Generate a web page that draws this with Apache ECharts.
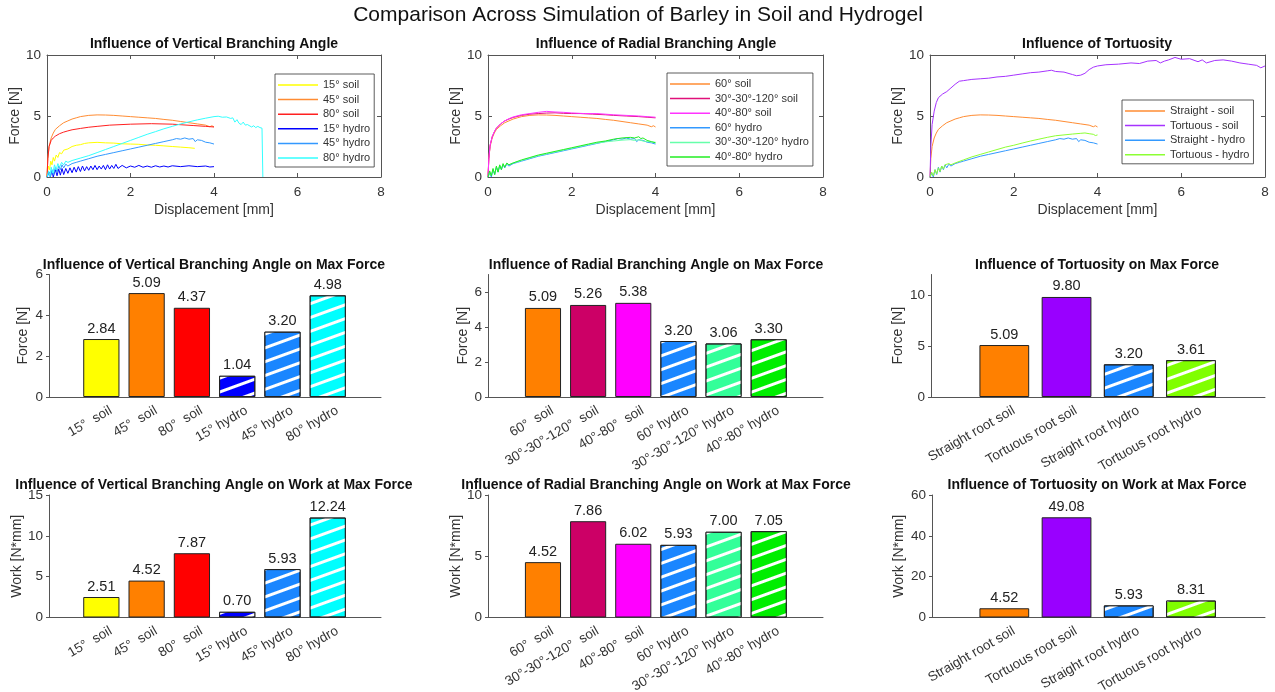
<!DOCTYPE html>
<html>
<head>
<meta charset="utf-8">
<title>Comparison Across Simulation of Barley in Soil and Hydrogel</title>
<script src="https://cdn.jsdelivr.net/npm/echarts@6/dist/echarts.min.js"></script>
<style>
  html, body { margin: 0; padding: 0; background: #fff; }
  #chart { width: 1275px; height: 692px; }
</style>
</head>
<body>
<div id="chart"></div>
<script>
// ---------- force–displacement curves: [displacement mm, force N] ----------
const curve15Soil = [[0,0],[0.03,0.9],[0.06,0.6],[0.09,1.3],[0.12,1.0],[0.15,1.6],[0.18,1.3],[0.22,1.8],[0.26,1.6],[0.3,2.0],[0.35,1.9],[0.4,2.2],[0.5,2.3],[0.6,2.5],[0.7,2.6],[0.8,2.65],[0.9,2.75],[1.0,2.8],[1.2,2.84],[1.4,2.8],[1.6,2.78],[1.8,2.72],[2.0,2.7],[2.2,2.68],[2.4,2.62],[2.6,2.6],[2.8,2.55],[3.0,2.5],[3.2,2.45],[3.4,2.4],[3.54,2.35]];
const curve45Soil = [[0,0],[0.02,1.5],[0.05,2.5],[0.1,3.2],[0.15,3.6],[0.2,3.9],[0.3,4.2],[0.4,4.45],[0.5,4.6],[0.6,4.75],[0.7,4.85],[0.8,4.95],[1.0,5.05],[1.2,5.09],[1.4,5.08],[1.6,5.05],[1.8,5.0],[2.0,4.95],[2.2,4.9],[2.4,4.85],[2.6,4.8],[2.8,4.72],[3.0,4.65],[3.2,4.55],[3.4,4.45],[3.6,4.35],[3.8,4.25],[3.9,4.12],[3.95,4.2],[4.0,4.1]];
const curve80Soil = [[0,0],[0.02,1.5],[0.05,2.5],[0.1,3.0],[0.15,3.2],[0.2,3.35],[0.3,3.55],[0.4,3.68],[0.5,3.78],[0.6,3.87],[0.8,3.98],[1.0,4.08],[1.2,4.15],[1.5,4.25],[2.0,4.33],[2.5,4.37],[3.0,4.33],[3.5,4.22],[3.8,4.15],[4.0,4.1]];
const curve15Hydro = [[0,0],[0.05,0.4],[0.08,0.05],[0.12,0.5],[0.15,0.0],[0.2,0.6],[0.24,0.1],[0.28,0.65],[0.32,0.15],[0.36,0.7],[0.4,0.2],[0.45,0.7],[0.5,0.3],[0.55,0.75],[0.6,0.35],[0.65,0.8],[0.7,0.4],[0.75,0.85],[0.8,0.45],[0.85,0.9],[0.9,0.5],[0.95,0.85],[1.0,0.55],[1.05,0.9],[1.1,0.6],[1.15,0.95],[1.2,0.6],[1.25,0.9],[1.3,0.65],[1.35,0.95],[1.4,0.6],[1.45,1.0],[1.5,0.65],[1.55,0.95],[1.6,0.7],[1.65,1.04],[1.7,0.7],[1.8,0.95],[1.9,0.75],[2.0,0.9],[2.1,0.8],[2.2,0.95],[2.3,0.8],[2.4,0.9],[2.5,0.8],[2.6,0.92],[2.7,0.82],[2.8,0.9],[2.9,0.82],[3.0,0.92],[3.2,0.85],[3.4,0.92],[3.6,0.85],[3.8,0.9],[3.9,0.82],[4.0,0.85]];
const curve45Hydro = [[0,0],[0.04,0.3],[0.08,0.0],[0.12,0.6],[0.16,0.2],[0.2,0.8],[0.24,0.4],[0.28,0.9],[0.32,0.6],[0.36,1.0],[0.4,0.75],[0.45,1.05],[0.5,0.9],[0.6,1.1],[0.7,1.2],[0.8,1.3],[1.0,1.5],[1.2,1.7],[1.4,1.85],[1.6,2.0],[1.8,2.15],[2.0,2.3],[2.2,2.45],[2.4,2.6],[2.6,2.75],[2.8,2.9],[3.0,3.05],[3.1,3.15],[3.2,3.1],[3.3,3.2],[3.4,3.1],[3.5,3.15],[3.55,2.9],[3.6,3.05],[3.7,3.0],[3.8,2.85],[3.9,2.8],[4.0,2.7]];
const curve80Hydro = [[0,0],[0.04,0.5],[0.07,0.1],[0.1,0.8],[0.14,0.3],[0.18,1.0],[0.22,0.6],[0.26,1.1],[0.3,0.8],[0.35,1.2],[0.4,1.0],[0.45,1.3],[0.5,1.2],[0.6,1.35],[0.8,1.55],[1.0,1.75],[1.2,2.0],[1.4,2.25],[1.6,2.5],[1.8,2.75],[2.0,3.0],[2.2,3.25],[2.4,3.5],[2.6,3.72],[2.8,3.95],[3.0,4.15],[3.2,4.35],[3.4,4.52],[3.6,4.68],[3.8,4.82],[4.0,4.95],[4.1,4.98],[4.2,4.9],[4.3,4.92],[4.4,4.8],[4.45,4.85],[4.5,4.5],[4.55,4.7],[4.6,4.4],[4.65,4.3],[4.7,4.5],[4.75,4.25],[4.8,4.3],[4.9,4.1],[4.95,4.2],[5.0,4.05],[5.05,4.15],[5.1,4.05],[5.15,4.0],[5.17,0]];
const curve303030Soil = [[0,0],[0.02,1.5],[0.05,2.6],[0.1,3.3],[0.15,3.7],[0.2,4.0],[0.3,4.35],[0.4,4.6],[0.5,4.75],[0.6,4.88],[0.8,5.05],[1.0,5.15],[1.2,5.2],[1.4,5.24],[1.6,5.26],[1.8,5.22],[2.0,5.2],[2.2,5.2],[2.5,5.15],[2.8,5.1],[3.0,5.05],[3.3,5.0],[3.6,4.95],[3.8,4.9],[4.0,4.85]];
const curve4080Soil = [[0,0],[0.02,1.5],[0.05,2.6],[0.1,3.3],[0.15,3.7],[0.2,4.0],[0.3,4.35],[0.4,4.6],[0.5,4.78],[0.6,4.92],[0.8,5.1],[1.0,5.2],[1.2,5.3],[1.4,5.38],[1.6,5.33],[1.8,5.3],[2.0,5.25],[2.3,5.2],[2.6,5.2],[3.0,5.1],[3.3,5.05],[3.6,5.0],[3.8,4.95],[4.0,4.9]];
const curve303030Hydro = [[0,0],[0.04,0.4],[0.08,0.1],[0.12,0.6],[0.16,0.3],[0.2,0.8],[0.24,0.5],[0.28,0.95],[0.32,0.7],[0.36,1.05],[0.4,0.85],[0.45,1.1],[0.5,1.0],[0.6,1.15],[0.8,1.35],[1.0,1.55],[1.2,1.75],[1.4,1.9],[1.6,2.05],[1.8,2.2],[2.0,2.35],[2.2,2.5],[2.4,2.65],[2.6,2.78],[2.8,2.88],[3.0,2.95],[3.2,3.02],[3.4,3.06],[3.5,3.0],[3.6,3.05],[3.7,2.95],[3.8,2.9],[4.0,2.85]];
const curve4080Hydro = [[0,0],[0.04,0.5],[0.08,0.1],[0.12,0.7],[0.16,0.2],[0.2,0.9],[0.24,0.4],[0.28,1.0],[0.32,0.6],[0.36,1.1],[0.4,0.8],[0.45,1.15],[0.5,1.0],[0.6,1.15],[0.8,1.4],[1.0,1.6],[1.2,1.8],[1.4,1.95],[1.6,2.1],[1.8,2.25],[2.0,2.4],[2.2,2.55],[2.4,2.7],[2.6,2.85],[2.8,2.95],[3.0,3.1],[3.2,3.2],[3.4,3.25],[3.5,3.2],[3.6,3.3],[3.65,3.15],[3.7,3.2],[3.8,3.0],[3.9,2.9],[4.0,2.8]];
const curveTortSoil = [[0,0],[0.02,2.5],[0.05,4.3],[0.1,5.4],[0.15,6.1],[0.2,6.5],[0.3,6.8],[0.4,7.0],[0.5,7.3],[0.6,7.6],[0.7,7.85],[0.8,7.9],[0.9,7.95],[1.0,8.0],[1.2,8.05],[1.4,8.1],[1.6,8.2],[1.8,8.25],[2.0,8.35],[2.2,8.45],[2.4,8.55],[2.6,8.6],[2.8,8.7],[2.9,8.75],[3.0,8.65],[3.2,8.6],[3.4,8.4],[3.5,8.3],[3.6,8.35],[3.7,8.5],[3.8,8.8],[3.9,9.0],[4.0,9.1],[4.2,9.2],[4.5,9.25],[4.8,9.35],[5.0,9.3],[5.2,9.5],[5.4,9.55],[5.5,9.35],[5.6,9.5],[5.7,9.6],[5.85,9.8],[6.0,9.65],[6.2,9.7],[6.4,9.45],[6.5,9.6],[6.6,9.35],[6.8,9.55],[7.0,9.6],[7.2,9.5],[7.4,9.35],[7.6,9.25],[7.8,9.15],[7.9,8.95],[8.0,9.1]];
const curveTortHydro = [[0,0],[0.04,0.4],[0.08,0.1],[0.12,0.6],[0.16,0.25],[0.2,0.75],[0.24,0.45],[0.28,0.9],[0.32,0.65],[0.36,1.0],[0.4,0.85],[0.45,1.1],[0.5,1.0],[0.6,1.15],[0.8,1.4],[1.0,1.65],[1.2,1.85],[1.4,2.05],[1.6,2.25],[1.8,2.45],[2.0,2.6],[2.2,2.78],[2.4,2.95],[2.6,3.1],[2.8,3.25],[3.0,3.38],[3.2,3.45],[3.4,3.52],[3.6,3.58],[3.7,3.61],[3.8,3.55],[3.9,3.5],[3.95,3.4],[4.0,3.45]];

// ---------- bar summaries ----------
const vertCats = ['15°  soil', '45°  soil', '80°  soil', '15° hydro', '45° hydro', '80° hydro'];
const vertMaxForce = [2.84, 5.09, 4.37, 1.04, 3.20, 4.98];
const vertWork = [2.51, 4.52, 7.87, 0.70, 5.93, 12.24];
const vertColors = ['#ffff00', '#ff8000', '#ff0000', '#0000ff', '#1a86ff', '#00ffff'];

const radCats = ['60°  soil', '30°-30°-120°  soil', '40°-80°  soil', '60° hydro', '30°-30°-120° hydro', '40°-80° hydro'];
const radMaxForce = [5.09, 5.26, 5.38, 3.20, 3.06, 3.30];
const radWork = [4.52, 7.86, 6.02, 5.93, 7.00, 7.05];
const radColors = ['#ff8000', '#cc0066', '#ff00ff', '#1a86ff', '#33ff99', '#00ee00'];

const tortCats = ['Straight root soil', 'Tortuous root soil', 'Straight root hydro', 'Tortuous root hydro'];
const tortMaxForce = [5.09, 9.80, 3.20, 3.61];
const tortWork = [4.52, 49.08, 5.93, 8.31];
const tortColors = ['#ff8000', '#9900ff', '#1a86ff', '#80ff00'];

// ---------- styling ----------
const FONT = '"Liberation Sans", Arial, Helvetica, sans-serif';
const AXIS = '#555555';
const TEXT = '#333333';

const option = {
  animation: false,
  textStyle: { fontFamily: FONT },
  title: [], grid: [], xAxis: [], yAxis: [], series: [], legend: []
};

option.title.push({
  text: 'Comparison Across Simulation of Barley in Soil and Hydrogel',
  left: 638, top: 5, textAlign: 'center', padding: 0,
  textStyle: { fontFamily: FONT, fontSize: 21, fontWeight: 'normal', color: '#111' }
});

function addTitle(text, cx, top) {
  option.title.push({
    text, left: cx, top, textAlign: 'center', padding: 0,
    textStyle: { fontFamily: FONT, fontSize: 14, fontWeight: 'bold', color: '#111' }
  });
}

// Grids keep their exact box; long rotated labels may run to the canvas edge
function makeGrid(left, top, width, height) {
  return { left, top, width, height, containLabel: false, outerBoundsMode: 'none' };
}

const lineAxis = { show: true, onZero: false, lineStyle: { color: AXIS, width: 1 } };
const tickLabel = { fontFamily: FONT, fontSize: 13.5, color: TEXT };

// Line panel: boxed axes with inward ticks on all sides
function linePanel(opt) {
  const g = option.grid.length;
  option.grid.push(makeGrid(opt.left, 55, opt.right - opt.left, 122));
  const xi = option.xAxis.length, yi = option.yAxis.length;
  const xBase = { gridIndex: g, type: 'value', min: 0, max: 8, interval: 2, splitLine: { show: false },
                  axisLine: lineAxis, axisTick: { show: true, inside: true, length: 4, lineStyle: { color: AXIS } } };
  const yBase = { gridIndex: g, type: 'value', min: 0, max: 10, interval: 5, splitLine: { show: false },
                  axisLine: lineAxis, axisTick: { show: true, inside: true, length: 4, lineStyle: { color: AXIS } } };
  option.xAxis.push(Object.assign({}, xBase, {
    position: 'bottom', axisLabel: Object.assign({ margin: 8 }, tickLabel),
    name: 'Displacement [mm]', nameLocation: 'middle', nameGap: 26,
    nameTextStyle: { fontFamily: FONT, fontSize: 14, color: TEXT }
  }));
  option.xAxis.push(Object.assign({}, xBase, { position: 'top', axisLabel: { show: false } }));
  option.yAxis.push(Object.assign({}, yBase, {
    position: 'left', axisLabel: Object.assign({ margin: 6 }, tickLabel),
    name: 'Force [N]', nameLocation: 'middle', nameGap: opt.nameGap,
    nameTextStyle: { fontFamily: FONT, fontSize: 14, color: TEXT }
  }));
  option.yAxis.push(Object.assign({}, yBase, { position: 'right', axisLabel: { show: false } }));
  opt.curves.forEach(c => {
    option.series.push({
      type: 'line', name: c.name, xAxisIndex: xi, yAxisIndex: yi, data: c.data,
      symbol: 'none', lineStyle: { width: 1, color: c.color }, itemStyle: { color: c.color }
    });
  });
  option.legend.push({
    data: opt.curves.map(c => c.name), orient: 'vertical',
    left: opt.legend.left, top: opt.legend.top,
    icon: 'rect', itemWidth: 40, itemHeight: 1.5, itemGap: 2.6,
    padding: [5, 4, 3, 3], borderColor: '#333', borderWidth: 0.8, backgroundColor: '#fff',
    textStyle: { fontFamily: FONT, fontSize: 11, lineHeight: 12, color: TEXT }
  });
}

// Hatch pattern used for hydrogel bars
const hatch = {
  symbol: 'rect', symbolSize: 1, dashArrayX: [1, 0], dashArrayY: [2.2, 9.5],
  rotation: -Math.PI / 9, color: '#ffffff'
};

// Bar panel: an outer grid carries the y axis and baseline, an inner grid holds the categories
function barPanel(opt) {
  const g = option.grid.length;
  option.grid.push(makeGrid(opt.left, opt.top, opt.right - opt.left, 122.5));
  option.grid.push(makeGrid(opt.inL, opt.top, opt.inR - opt.inL, 122.5));
  option.xAxis.push({ gridIndex: g, type: 'value', min: 0, max: 1, axisLine: lineAxis,
                      axisTick: { show: false }, axisLabel: { show: false }, splitLine: { show: false } });
  option.yAxis.push({
    gridIndex: g, type: 'value', min: 0, max: opt.max, splitLine: { show: false },
    axisLine: lineAxis,
    axisTick: { show: true, inside: false, length: 3, lineStyle: { color: AXIS }, customValues: opt.ticks },
    axisLabel: Object.assign({ margin: 6, customValues: opt.ticks }, tickLabel),
    name: opt.yName, nameLocation: 'middle', nameGap: opt.nameGap,
    nameTextStyle: { fontFamily: FONT, fontSize: 14, color: TEXT }
  });
  const xi = option.xAxis.length, yi = option.yAxis.length;
  option.xAxis.push({
    gridIndex: g + 1, type: 'category', data: opt.cats,
    axisLine: { show: false }, axisTick: { show: false },
    axisLabel: { interval: 0, rotate: 30, margin: 10, verticalAlign: 'top', padding: [0, -7, 0, 0],
                 fontFamily: FONT, fontSize: 13.5, color: TEXT }
  });
  option.yAxis.push({ gridIndex: g + 1, type: 'value', min: 0, max: opt.max, show: false });
  option.series.push({
    type: 'bar', xAxisIndex: xi, yAxisIndex: yi, barWidth: '80%',
    data: opt.values.map((v, i) => {
      const hydro = opt.cats[i].indexOf('hydro') >= 0;
      return {
        value: v,
        itemStyle: Object.assign({ color: opt.colors[i], borderColor: '#222', borderWidth: 1 },
                                 hydro ? { decal: hatch } : {})
      };
    }),
    label: { show: true, position: 'top', distance: 3, fontFamily: FONT, fontSize: 14.5, color: '#222',
             formatter: p => p.value.toFixed(2) }
  });
}

// ---------- row 1: force–displacement ----------
addTitle('Influence of Vertical Branching Angle', 214, 37);
addTitle('Influence of Radial Branching Angle', 656, 37);
addTitle('Influence of Tortuosity', 1097, 37);

linePanel({ left: 47, right: 381, nameGap: 19, legend: { left: 275, top: 74 }, curves: [
  { name: '15° soil', color: '#ffff00', data: curve15Soil },
  { name: '45° soil', color: '#ff8c33', data: curve45Soil },
  { name: '80° soil', color: '#ff2020', data: curve80Soil },
  { name: '15° hydro', color: '#0000ff', data: curve15Hydro },
  { name: '45° hydro', color: '#3399ff', data: curve45Hydro },
  { name: '80° hydro', color: '#33ffff', data: curve80Hydro }
]});
linePanel({ left: 488, right: 823, nameGap: 20, legend: { left: 667, top: 73 }, curves: [
  { name: '60° soil', color: '#ff8c33', data: curve45Soil },
  { name: '30°-30°-120° soil', color: '#e0107a', data: curve303030Soil },
  { name: '40°-80° soil', color: '#ff33ff', data: curve4080Soil },
  { name: '60° hydro', color: '#3399ff', data: curve45Hydro },
  { name: '30°-30°-120° hydro', color: '#66ffaa', data: curve303030Hydro },
  { name: '40°-80° hydro', color: '#22ee22', data: curve4080Hydro }
]});
linePanel({ left: 930, right: 1265, nameGap: 21, legend: { left: 1122, top: 100 }, curves: [
  { name: 'Straight - soil', color: '#ff8c33', data: curve45Soil },
  { name: 'Tortuous - soil', color: '#a633ff', data: curveTortSoil },
  { name: 'Straight - hydro', color: '#3399ff', data: curve45Hydro },
  { name: 'Tortuous - hydro', color: '#8cff33', data: curveTortHydro }
]});

// ---------- row 2: max force ----------
addTitle('Influence of Vertical Branching Angle on Max Force', 214, 258);
addTitle('Influence of Radial Branching Angle on Max Force', 656, 258);
addTitle('Influence of Tortuosity on Max Force', 1097, 258);

barPanel({ left: 49, right: 381, inL: 78.7, inR: 350.4, top: 274.5, max: 6, ticks: [0, 2, 4, 6],
           yName: 'Force [N]', nameGap: 19, cats: vertCats, values: vertMaxForce, colors: vertColors });
barPanel({ left: 488, right: 823, inL: 520.4, inR: 791.3, top: 274.5, max: 7, ticks: [0, 2, 4, 6],
           yName: 'Force [N]', nameGap: 17, cats: radCats, values: radMaxForce, colors: radColors });
barPanel({ left: 931, right: 1265, inL: 973.2, inR: 1222.1, top: 274.5, max: 12, ticks: [0, 5, 10],
           yName: 'Force [N]', nameGap: 26, cats: tortCats, values: tortMaxForce, colors: tortColors });

// ---------- row 3: work at max force ----------
addTitle('Influence of Vertical Branching Angle on Work at Max Force', 214, 478);
addTitle('Influence of Radial Branching Angle on Work at Max Force', 656, 478);
addTitle('Influence of Tortuosity on Work at Max Force', 1097, 478);

barPanel({ left: 49, right: 381, inL: 78.7, inR: 350.4, top: 495, max: 15, ticks: [0, 5, 10, 15],
           yName: 'Work [N*mm]', nameGap: 25, cats: vertCats, values: vertWork, colors: vertColors });
barPanel({ left: 488, right: 823, inL: 520.4, inR: 791.3, top: 495, max: 10, ticks: [0, 5, 10],
           yName: 'Work [N*mm]', nameGap: 23, cats: radCats, values: radWork, colors: radColors });
barPanel({ left: 932, right: 1265, inL: 973.2, inR: 1222.1, top: 495, max: 60, ticks: [0, 20, 40, 60],
           yName: 'Work [N*mm]', nameGap: 26, cats: tortCats, values: tortWork, colors: tortColors });

const chart = echarts.init(document.getElementById('chart'), null, { renderer: 'canvas' });
chart.setOption(option);
</script>
</body>
</html>
